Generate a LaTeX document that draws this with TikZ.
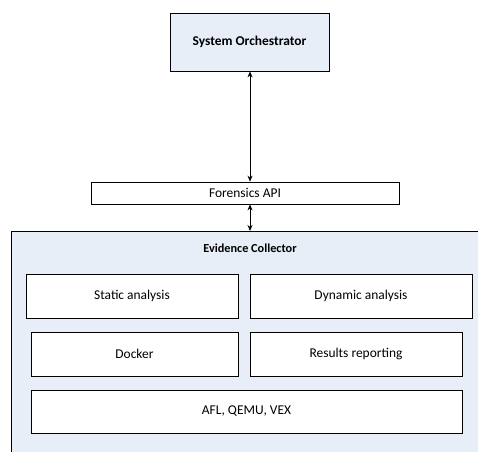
\documentclass[tikz,border=0pt]{standalone}
\usepackage{fontspec}
\setmainfont{Carlito}
\usetikzlibrary{arrows.meta}
\definecolor{paleblue}{HTML}{E7EEF8}
\tikzset{
  box/.style={draw=black, line width=0.8bp, fill=white, inner sep=0pt, font=\fontsize{13.5}{16}\selectfont},
  arr/.style={{Stealth[length=6bp,width=5bp]}-{Stealth[length=6bp,width=5bp]}, line width=0.8bp},
}
\begin{document}
\begin{tikzpicture}[x=1bp,y=-1bp]
  \useasboundingbox (0,0) rectangle (478,452);
  \clip (0,0) rectangle (478,452);
  % top-level component
  \node[box, fill=paleblue, minimum width=159bp, minimum height=58bp, font=\bfseries\fontsize{13.5}{16}\selectfont] (orch) at (249.5,42) {System Orchestrator};
  % API layer
  \node[box, minimum width=308bp, minimum height=22bp] (api) at (245,193) {Forensics API};
  % collector container, running past the right and bottom edges
  \node[box, fill=paleblue, anchor=north west, minimum width=480bp, minimum height=240bp] (ec) at (11,231) {};
  \node[font=\bfseries\fontsize{12.3}{14}\selectfont, inner sep=0pt] (ectitle) at (250,248) {Evidence Collector};
  % inner modules
  \node[box, minimum width=212bp, minimum height=44bp] (static) at (132,296) {Static analysis};
  \node[box, minimum width=222bp, minimum height=44bp] (dyn) at (361,296) {Dynamic analysis};
  \node[box, minimum width=207bp, minimum height=44bp] (docker) at (134.5,354) {Docker};
  \node[box, minimum width=212bp, minimum height=44bp] (report) at (356,354) {Results reporting};
  \node[box, minimum width=431bp, minimum height=43bp] (afl) at (246.5,411.5) {AFL, QEMU, VEX};
  % connectors
  \draw[arr] (orch.south -| 250,0) -- (api.north -| 250,0);
  \draw[arr] (api.south -| 250,0) -- (ec.north -| 250,0);
\end{tikzpicture}
\end{document}
